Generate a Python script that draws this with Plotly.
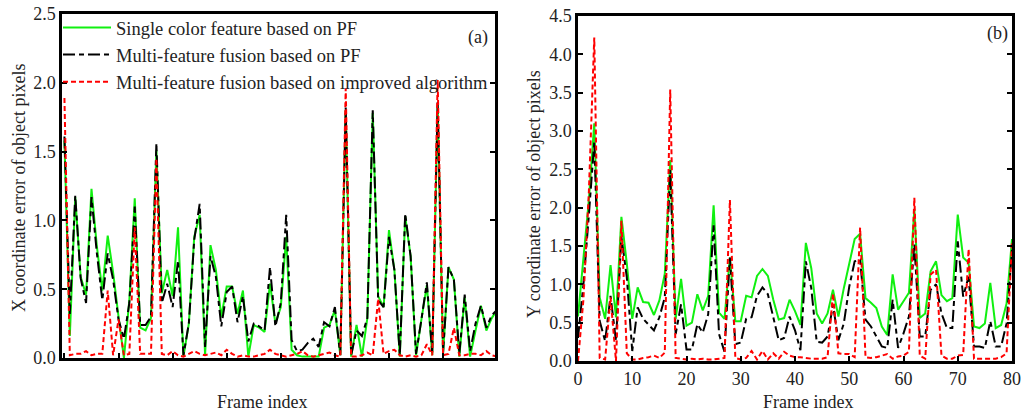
import plotly.graph_objects as go

W, H = 1021, 413
frames = list(range(81))

green_a = [1.58, 0.16, 1.17, 0.59, 0.46, 1.23, 0.81, 0.49, 0.89, 0.62,
           0.30, 0.00, 0.42, 1.16, 0.22, 0.20, 0.29, 1.51, 0.47, 0.64,
           0.45, 0.95, 0.01, 0.25, 0.88, 1.04, 0.02, 0.82, 0.64, 0.30,
           0.52, 0.52, 0.32, 0.49, 0.01, 0.24, 0.22, 0.19, 0.54, 0.25,
           0.37, 0.88, 0.06, 0.02, 0.01, 0.01, 0.01, 0.01, 0.22, 0.24,
           0.35, 0.02, 1.80, 0.01, 0.24, 0.01, 0.29, 1.78, 0.45, 0.37,
           0.93, 0.64, 0.01, 1.03, 0.74, 0.02, 0.28, 0.53, 0.02, 1.84,
           0.03, 0.66, 0.57, 0.01, 0.44, 0.01, 0.20, 0.38, 0.20, 0.29, 0.35]
black_a = [1.61, 0.32, 1.18, 0.58, 0.40, 1.17, 0.76, 0.42, 0.76, 0.57,
           0.28, 0.14, 0.40, 1.10, 0.24, 0.24, 0.30, 1.56, 0.40, 0.54,
           0.37, 0.71, 0.02, 0.25, 0.86, 1.12, 0.08, 0.74, 0.59, 0.23,
           0.48, 0.52, 0.26, 0.45, 0.12, 0.25, 0.23, 0.20, 0.66, 0.23,
           0.40, 1.04, 0.13, 0.05, 0.06, 0.11, 0.14, 0.08, 0.26, 0.23,
           0.37, 0.02, 1.82, 0.02, 0.20, 0.16, 0.29, 1.80, 0.42, 0.37,
           0.88, 0.64, 0.02, 1.05, 0.74, 0.03, 0.28, 0.55, 0.03, 1.86,
           0.04, 0.66, 0.57, 0.03, 0.46, 0.05, 0.25, 0.38, 0.22, 0.31, 0.35]
red_a = [1.89, 0.02, 0.03, 0.03, 0.05, 0.02, 0.03, 0.03, 0.49, 0.02,
         0.28, 0.02, 0.03, 0.95, 0.03, 0.03, 0.03, 1.45, 0.03, 0.02,
         0.05, 0.02, 0.01, 0.03, 0.05, 0.03, 0.02, 0.03, 0.04, 0.02,
         0.06, 0.03, 0.01, 0.02, 0.01, 0.01, 0.02, 0.03, 0.06, 0.03,
         0.02, 0.01, 0.02, 0.03, 0.05, 0.02, 0.01, 0.02, 0.03, 0.04,
         0.02, 0.01, 1.96, 0.01, 0.01, 0.02, 0.04, 0.02, 0.43, 0.03,
         0.05, 0.06, 0.02, 0.01, 0.02, 0.01, 0.02, 0.10, 0.02, 2.02,
         0.02, 0.03, 0.22, 0.02, 0.02, 0.03, 0.03, 0.02, 0.05, 0.02, 0.01]

green_b = [0.58, 1.30, 2.10, 3.10, 0.83, 0.55, 1.25, 0.57, 1.88, 1.27,
           0.55, 0.96, 0.77, 0.76, 0.60, 0.79, 1.14, 2.62, 0.55, 1.07,
           0.46, 0.50, 0.87, 0.66, 0.85, 2.03, 0.63, 0.55, 1.35, 0.52,
           0.52, 0.85, 0.83, 1.11, 1.20, 1.11, 0.80, 0.54, 0.56, 0.80,
           0.65, 0.47, 1.54, 1.21, 0.62, 0.49, 0.62, 0.93, 0.58, 0.95,
           1.26, 1.59, 1.66, 0.82, 0.76, 0.69, 0.45, 0.34, 1.13, 0.67,
           0.78, 0.89, 1.98, 0.56, 0.62, 1.17, 1.30, 0.86, 0.78, 0.82,
           1.91, 1.35, 1.28, 0.45, 0.43, 0.49, 1.02, 0.43, 0.47, 0.75, 1.59]
black_b = [0.30, 1.00, 1.90, 2.86, 0.52, 0.26, 0.85, 0.26, 1.62, 1.09,
           0.13, 0.70, 0.55, 0.47, 0.40, 0.57, 0.83, 2.49, 0.35, 0.74,
           0.15, 0.15, 0.48, 0.37, 0.61, 1.77, 0.35, 0.12, 1.35, 0.22,
           0.24, 0.55, 0.57, 0.85, 0.96, 0.87, 0.55, 0.27, 0.30, 0.58,
           0.40, 0.14, 1.30, 0.95, 0.25, 0.24, 0.32, 0.73, 0.27, 0.49,
           0.97, 1.30, 1.32, 0.54, 0.45, 0.32, 0.19, 0.17, 0.80, 0.17,
           0.36, 0.58, 1.52, 0.32, 0.32, 0.93, 1.00, 0.62, 0.43, 0.43,
           1.56, 0.84, 1.10, 0.19, 0.19, 0.17, 0.52, 0.19, 0.19, 0.49, 1.45]
red_b = [0.00, 0.80, 2.20, 4.22, 0.04, 0.02, 0.83, 0.00, 1.83, 0.10,
         0.02, 0.02, 0.04, 0.05, 0.07, 0.04, 0.11, 3.54, 0.04, 0.03,
         0.02, 0.03, 0.02, 0.03, 0.02, 0.02, 0.03, 0.04, 2.10, 0.04,
         0.02, 0.04, 0.13, 0.02, 0.13, 0.02, 0.10, 0.03, 0.12, 0.07,
         0.05, 0.05, 0.04, 0.03, 0.03, 0.03, 0.05, 0.88, 0.10, 0.09,
         0.09, 0.05, 1.74, 0.05, 0.04, 0.05, 0.07, 0.09, 0.03, 0.06,
         0.07, 0.12, 2.13, 0.07, 0.03, 1.13, 1.19, 0.07, 0.03, 0.03,
         0.07, 0.08, 1.46, 0.03, 0.03, 0.03, 0.03, 0.03, 0.05, 0.10, 1.55]

names = ["Single color feature based on PF",
         "Multi-feature fusion based on PF",
         "Multi-feature fusion based on improved algorithm"]
colors = ["#10F010", "#000000", "#FF0000"]
dashes = ["solid", "12px,4px,5px,4px", "5px,3px"]

FONT = "Liberation Serif, Times New Roman, serif"

fig = go.Figure()
for i, ys in enumerate([green_a, black_a, red_a]):
    fig.add_trace(go.Scatter(x=frames, y=ys, mode="lines", name=names[i],
                             xaxis="x", yaxis="y", showlegend=True,
                             line=dict(color=colors[i], width=2, dash=dashes[i])))
for i, ys in enumerate([green_b, black_b, red_b]):
    fig.add_trace(go.Scatter(x=frames, y=ys, mode="lines", name=names[i],
                             xaxis="x2", yaxis="y2", showlegend=False,
                             line=dict(color=colors[i], width=2, dash=dashes[i])))

def px_x(p):
    return p / W

def px_y(p):
    return 1 - p / H

axis_common = dict(showline=True, linecolor="black", linewidth=2.5,
                   ticks="inside", ticklen=5, tickwidth=2, tickcolor="black",
                   showgrid=False, zeroline=False, automargin=False,
                   tickfont=dict(family=FONT, size=18, color="#222"))

fig.update_layout(
    width=W, height=H,
    margin=dict(l=0, r=0, t=0, b=0, pad=0, autoexpand=False),
    paper_bgcolor="white", plot_bgcolor="white",
    font=dict(family=FONT, size=18, color="#222"),
    showlegend=True,
    legend=dict(x=px_x(58), y=px_y(9), xanchor="left", yanchor="top",
                bgcolor="rgba(0,0,0,0)", borderwidth=0,
                font=dict(family=FONT, size=18.5, color="#222"),
                tracegroupgap=0, itemwidth=48),
    xaxis=dict(domain=[px_x(62), px_x(495)], range=[-0.45, 79.6], dtick=10, tick0=0,
               showticklabels=False, anchor="y", mirror=True, **axis_common),
    yaxis=dict(domain=[px_y(358), px_y(14)], range=[0, 2.5], dtick=0.5, tickformat=".1f",
               anchor="x", mirror="ticks", **axis_common),
    xaxis2=dict(domain=[px_x(578), px_x(1012)], range=[0, 80], dtick=10, tick0=0,
                anchor="y2", mirror=True, **axis_common),
    yaxis2=dict(domain=[px_y(361), px_y(16)], range=[0, 4.5], dtick=0.5, tickformat=".1f",
                anchor="x2", mirror="ticks", **axis_common),
)

ann = [
    dict(text="(a)", x=px_x(478), y=px_y(37)),
    dict(text="(b)", x=px_x(997), y=px_y(34)),
    dict(text="Frame index", x=px_x(262), y=px_y(402)),
    dict(text="Frame index", x=px_x(808), y=px_y(402)),
    dict(text="X coordinate error of object pixels", x=px_x(19), y=px_y(188), textangle=-90),
    dict(text="Y coordinate error of object pixels", x=px_x(534), y=px_y(194), textangle=-90),
]
for a in ann:
    fig.add_annotation(xref="paper", yref="paper", showarrow=False,
                       xanchor="center", yanchor="middle",
                       font=dict(family=FONT, size=18, color="#222"), **a)

fig.write_html("out.html", config={"displayModeBar": False},
               post_script="document.body.style.margin='0px';document.body.style.overflow='hidden';")
